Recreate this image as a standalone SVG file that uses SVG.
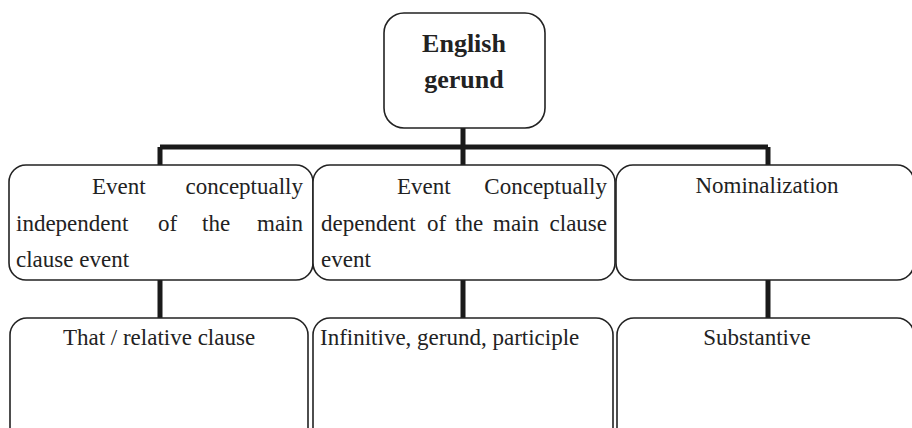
<svg xmlns="http://www.w3.org/2000/svg" width="912" height="428" viewBox="0 0 912 428">
<style>
.box{fill:#fff;stroke:#222;stroke-width:1.6}
.t{font-family:"Liberation Serif","Times New Roman",serif;font-size:23px;fill:#222}
.b{font-family:"Liberation Serif","Times New Roman",serif;font-size:26px;font-weight:bold;fill:#222}
.c{fill:none;stroke:#1a1a1a;stroke-width:5}
</style>
<rect width="912" height="428" fill="#fff"/>
<g id="connectors">
<path class="c" d="M463 128V147M160 147H768M160 147V165M463 147V165M768 147V165"/>
<path class="c" d="M160 280V318M463 280V318M768 280V318"/>
</g>
<g id="root">
<rect class="box" x="384" y="13" width="161" height="115" rx="20"/>
<text class="b" x="464" y="52" text-anchor="middle">English</text>
<text class="b" x="464" y="88" text-anchor="middle">gerund</text>
</g>
<g id="independent">
<rect class="box" x="9" y="165" width="304" height="115" rx="17"/>
<text class="t" x="92" y="194">Event</text>
<text class="t" x="303" y="194" text-anchor="end">conceptually</text>
<text class="t" x="16" y="231">independent</text>
<text class="t" x="158" y="231">of</text>
<text class="t" x="202" y="231">the</text>
<text class="t" x="303" y="231" text-anchor="end">main</text>
<text class="t" x="16" y="267">clause event</text>
</g>
<g id="dependent">
<rect class="box" x="313" y="165" width="302" height="115" rx="17"/>
<text class="t" x="397" y="194">Event</text>
<text class="t" x="607" y="194" text-anchor="end">Conceptually</text>
<text class="t" x="321" y="231">dependent</text>
<text class="t" x="427" y="231">of</text>
<text class="t" x="455" y="231">the</text>
<text class="t" x="493" y="231">main</text>
<text class="t" x="607" y="231" text-anchor="end">clause</text>
<text class="t" x="321" y="267">event</text>
</g>
<g id="nominalization">
<rect class="box" x="616" y="165" width="298" height="115" rx="17"/>
<text class="t" x="767" y="193" text-anchor="middle">Nominalization</text>
</g>
<g id="that-clause">
<rect class="box" x="10" y="318" width="298" height="140" rx="17"/>
<text class="t" x="159" y="345" text-anchor="middle">That / relative clause</text>
</g>
<g id="infinitive">
<rect class="box" x="313" y="318" width="300" height="140" rx="17"/>
<text class="t" x="320" y="345">Infinitive, gerund, participle</text>
</g>
<g id="substantive">
<rect class="box" x="617" y="318" width="297" height="140" rx="17"/>
<text class="t" x="757" y="345" text-anchor="middle">Substantive</text>
</g>
</svg>
